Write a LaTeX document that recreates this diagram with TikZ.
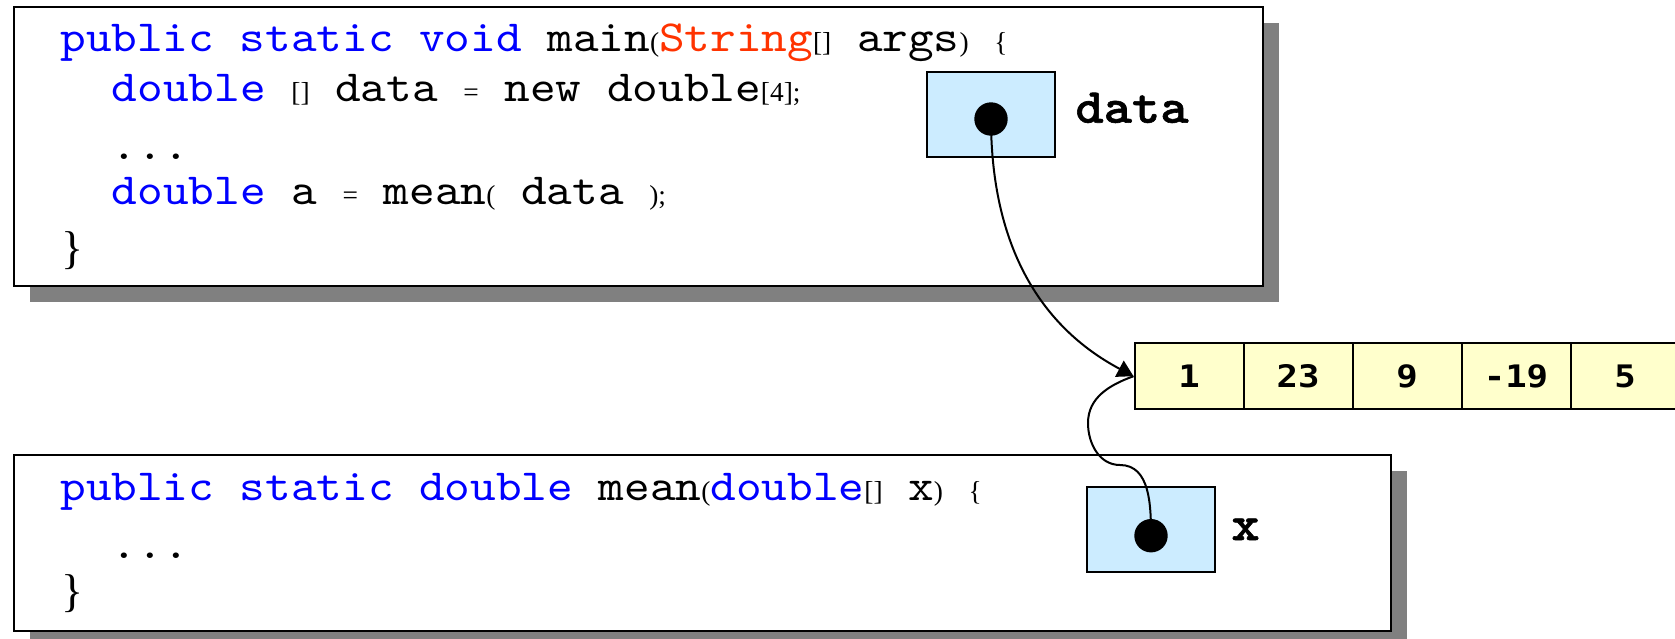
\documentclass[tikz,border=0pt]{standalone}
\usepackage{fontspec}
\setmainfont{Liberation Serif}
\newfontfamily\codefont[Extension=.otf, FakeStretch=1.1]{lmmono10-regular}
\newfontfamily\labfont[Extension=.otf, FakeStretch=1.1, FakeBold=1.2]{lmmonolt10-bold}
\newfontfamily\numfont[FakeStretch=1.15]{DejaVu Sans Mono}
\usetikzlibrary{arrows.meta,shadows}
\definecolor{kwblue}{HTML}{0000FF}
\definecolor{strred}{HTML}{FF3300}
\definecolor{refblue}{HTML}{CCECFF}
\definecolor{cellyel}{HTML}{FFFFCC}
\definecolor{shadowgray}{HTML}{808080}
\newcommand\codesz{\codefont\fontsize{22.2pt}{26pt}\selectfont}
\newcommand\pun[1]{{\rmfamily\fontsize{13.7pt}{16pt}\selectfont #1}}
\newcommand\kw[1]{{\color{kwblue}#1}}
\begin{document}
\begin{tikzpicture}[x=0.5pt,y=0.5pt,
  codebox/.style={draw=black, line width=1pt, fill=white, inner sep=0pt,
    drop shadow={shadow xshift=8pt, shadow yshift=-8pt, fill=shadowgray, opacity=1}},
  codeline/.style={anchor=base west, inner sep=0pt, font=\codesz},
  bracenode/.style={anchor=base west, inner sep=0pt, font=\rmfamily\fontsize{23pt}{27pt}\selectfont},
  reflabel/.style={anchor=base west, inner sep=0pt, font=\labfont\fontsize{24.5pt}{28pt}\selectfont},
  refbox/.style={draw=black, fill=refblue, line width=1pt, minimum width=64.2pt, minimum height=42.6pt, inner sep=0pt},
  refdot/.style={circle, fill=black, minimum size=16.7pt, inner sep=0pt},
  cell/.style={draw=black, fill=cellyel, line width=1pt, minimum width=54.5pt, minimum height=32.9pt, inner sep=0pt,
    font=\numfont\bfseries\fontsize{15.5pt}{18pt}\selectfont},
  conn/.style={draw=black, line width=1pt}]
\useasboundingbox (0,0) rectangle (1675,-638);
% main method box
\node[codebox, minimum width=624.35pt, minimum height=139.2pt] (mainbox) at (638.65,-146.5) {};
\node[codeline] (m1) at (60,-51.7) {\kw{public static void} main\pun{(}{\color{strred}String}\pun{[]} args\pun{)} \pun{\{}};
\node[codeline] (m2) at (111.5,-101.7) {\kw{double} \pun{[]} data \pun{=} new double\pun{[4];}};
\node[codeline] (m3) at (111.5,-159.3) {...};
\node[codeline] (m4) at (111.5,-204) {\kw{double} a \pun{=} mean\pun{(} data \pun{);}};
\node[bracenode] (m5) at (61,-263.4) {\}};
% mean method box
\node[codebox, minimum width=688.35pt, minimum height=87.7pt] (meanbox) at (702.65,-543) {};
\node[codeline] (f1) at (60,-500) {\kw{public static double} mean\pun{(}\kw{double}\pun{[]} x\pun{)} \pun{\{}};
\node[codeline] (f2) at (111.5,-558) {...};
\node[bracenode] (f3) at (61,-606.7) {\}};
% reference variables
\node[refbox] (dbox) at (991,-114.2) {};
\node[refdot] (ddot) at (991,-119) {};
\node[reflabel] (dlab) at (1075,-122.7) {data};
\node[refbox] (xbox) at (1151,-529.5) {};
\node[refdot] (xdot) at (1151,-535.7) {};
\node[reflabel] (xlab) at (1231,-540) {x};
% array
\foreach \v [count=\i] in {1,23,9,-19,5}
  \node[cell] (c\i) at ({1080+109*\i},-376.2) {\v};
% connectors
\coordinate (xbendA) at (1120,-465);
\coordinate (xbendB) at (1088,-423);
\draw[conn] (xdot.center) to[out=90,in=0] (xbendA) to[out=180,in=-90] (xbendB) to[out=90,in=200] (c1.west);
\draw[conn, -{Triangle[length=8pt,width=9pt]}] (ddot.center) to[out=-90,in=152] (c1.west);
\end{tikzpicture}
\end{document}
